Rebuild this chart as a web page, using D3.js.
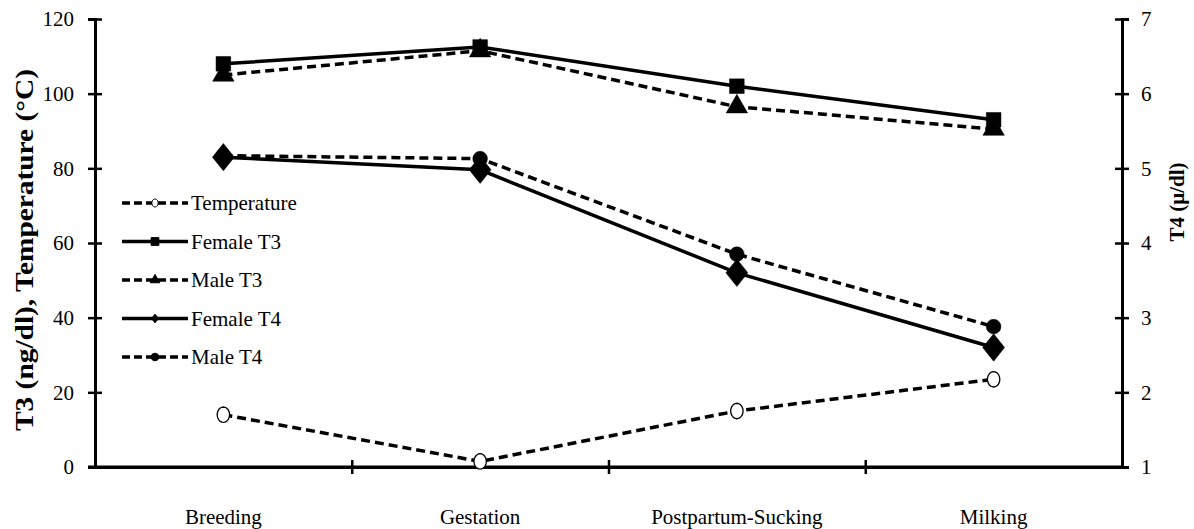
<!DOCTYPE html>
<html>
<head>
<meta charset="utf-8">
<script src="https://cdn.jsdelivr.net/npm/d3@7"></script>
<style>
  body { margin: 0; background: #fff; }
  text { font-family: "Liberation Serif", "Times New Roman", serif; fill: #000; }
</style>
</head>
<body>
<div id="chartDiv"></div>
<script>
// chart values
var categories = ['Breeding', 'Gestation', 'Postpartum-Sucking', 'Milking'];
var temperature = [14, 1.5, 15, 23.5];
var femaleT3 = [108, 112.5, 102, 93];
var maleT3 = [105, 111.5, 96.5, 90.5];
var femaleT4 = [5.15, 4.98, 3.6, 2.6];   // right axis
var maleT4 = [5.17, 5.13, 3.85, 2.88];   // right axis
var leftTicks = [0, 20, 40, 60, 80, 100, 120];
var rightTicks = [1, 2, 3, 4, 5, 6, 7];

var width = 1194, height = 529;
var plotLeft = 95, plotRight = 1122, plotTop = 19, plotBottom = 467;

var svg = d3.select('#chartDiv')
  .append('svg')
  .attr('width', width)
  .attr('height', height);

var x = d3.scaleBand().domain(categories).range([plotLeft, plotRight]);
var xEdge = d3.scaleLinear().domain([0, categories.length]).range([plotLeft, plotRight]);
var yLeft = d3.scaleLinear().domain([0, 120]).range([plotBottom, plotTop]);
var yRight = d3.scaleLinear().domain([1, 7]).range([plotBottom, plotTop]);

function cx(i) { return x(categories[i]) + x.bandwidth() / 2; }

// diamond a bit wider than d3's own, and an upright ellipse for the open circle
var wideDiamond = {
  draw: function (ctx, size) {
    var w = Math.sqrt(size / 2.5), h = w * 1.25;
    ctx.moveTo(0, -h); ctx.lineTo(w, 0); ctx.lineTo(0, h); ctx.lineTo(-w, 0); ctx.closePath();
  }
};
var tallCircle = {
  draw: function (ctx, size) {
    var rx = Math.sqrt(size / Math.PI / 1.25), ry = rx * 1.25, n = 24;
    for (var k = 0; k <= n; k++) {
      var a = k / n * 2 * Math.PI;
      if (k === 0) ctx.moveTo(rx * Math.cos(a), ry * Math.sin(a));
      else ctx.lineTo(rx * Math.cos(a), ry * Math.sin(a));
    }
    ctx.closePath();
  }
};

// left axis
var gl = svg.append('g')
  .attr('transform', 'translate(' + plotLeft + ',0)')
  .call(d3.axisLeft(yLeft).tickValues(leftTicks).tickSize(7).tickPadding(14));
gl.selectAll('.tick line').attr('x1', 7);
gl.selectAll('.tick text').style('font-size', '21px');

// right axis
var gr = svg.append('g')
  .attr('transform', 'translate(' + plotRight + ',0)')
  .call(d3.axisRight(yRight).tickValues(rightTicks).tickFormat(d3.format('d')).tickSize(7).tickPadding(12));
gr.selectAll('.tick line').attr('x1', -7);
gr.selectAll('.tick text').style('font-size', '21px');

// bottom axis, ticks between categories
var gb = svg.append('g')
  .attr('transform', 'translate(0,' + plotBottom + ')')
  .call(d3.axisBottom(xEdge).tickValues([1, 2, 3]).tickFormat('').tickSize(7).tickSizeOuter(0));
gb.selectAll('.tick line').attr('y1', -7);

svg.selectAll('.domain').attr('stroke', '#000').attr('stroke-width', 3);
svg.selectAll('.tick line').attr('stroke', '#000').attr('stroke-width', 2.5);
// extend the x axis line to the left tick length
svg.append('line').attr('x1', plotLeft - 7).attr('x2', plotRight).attr('y1', plotBottom).attr('y2', plotBottom)
  .attr('stroke', '#000').attr('stroke-width', 3);

// category labels
svg.selectAll('.cat')
  .data(categories)
  .enter()
  .append('text')
  .attr('class', 'cat')
  .attr('x', function (d, i) { return cx(i); })
  .attr('y', 524)
  .attr('text-anchor', 'middle')
  .style('font-size', '21px')
  .text(function (d) { return d; });

// axis titles
svg.append('text')
  .attr('transform', 'translate(33,250) rotate(-90)')
  .attr('text-anchor', 'middle')
  .attr('textLength', 362)
  .attr('lengthAdjust', 'spacingAndGlyphs')
  .style('font-size', '25px')
  .style('font-weight', 'bold')
  .text('T3 (ng/dl), Temperature (\u00B0C)');

svg.append('text')
  .attr('transform', 'translate(1184,202) rotate(-90)')
  .attr('text-anchor', 'middle')
  .style('font-size', '21px')
  .style('font-weight', 'bold')
  .text('T4 (\u00B5/dl)');

var series = [
  { name: 'Temperature', values: temperature, y: yLeft, dash: '9,5', symbol: tallCircle, size: 150, fill: '#fff', legendSize: 40 },
  { name: 'Female T3', values: femaleT3, y: yLeft, dash: null, symbol: d3.symbolSquare, size: 215, fill: '#000', legendSize: 60 },
  { name: 'Male T3', values: maleT3, y: yLeft, dash: '9,5', symbol: d3.symbolTriangle, size: 200, fill: '#000', legendSize: 40 },
  { name: 'Female T4', values: femaleT4, y: yRight, dash: null, symbol: wideDiamond, size: 300, fill: '#000', legendSize: 30 },
  { name: 'Male T4', values: maleT4, y: yRight, dash: '9,5', symbol: d3.symbolCircle, size: 170, fill: '#000', legendSize: 45 }
];

var drawOrder = [0, 2, 1, 4, 3];
drawOrder.forEach(function (k) {
  var s = series[k];
  var line = d3.line()
    .x(function (d, i) { return cx(i); })
    .y(function (d) { return s.y(d); });
  svg.append('path')
    .attr('d', line(s.values))
    .attr('fill', 'none')
    .attr('stroke', '#000')
    .attr('stroke-width', 3.5)
    .attr('stroke-dasharray', s.dash);
  svg.selectAll(null)
    .data(s.values)
    .enter()
    .append('path')
    .attr('d', d3.symbol().type(s.symbol).size(s.size))
    .attr('transform', function (d, i) { return 'translate(' + cx(i) + ',' + s.y(d) + ')'; })
    .attr('fill', s.fill)
    .attr('stroke', '#000')
    .attr('stroke-width', s.fill === '#fff' ? 1.3 : 0.5);
});

// legend
var legend = svg.append('g').attr('transform', 'translate(122,203)');
var rows = legend.selectAll('g')
  .data(series)
  .enter()
  .append('g')
  .attr('transform', function (d, i) { return 'translate(0,' + (i * 38.5) + ')'; });
rows.append('line')
  .attr('x1', 0).attr('x2', 66).attr('y1', 0).attr('y2', 0)
  .attr('stroke', '#000')
  .attr('stroke-width', 3.5)
  .attr('stroke-dasharray', function (d) { return d.dash ? '8,4' : null; });
rows.append('path')
  .attr('d', function (d) { return d3.symbol().type(d.symbol).size(d.legendSize)(); })
  .attr('transform', 'translate(33,0)')
  .attr('fill', function (d) { return d.fill; })
  .attr('stroke', '#000')
  .attr('stroke-width', 1);
rows.append('text')
  .attr('x', 69)
  .attr('y', 7)
  .style('font-size', '21px')
  .text(function (d) { return d.name; });
</script>
</body>
</html>
